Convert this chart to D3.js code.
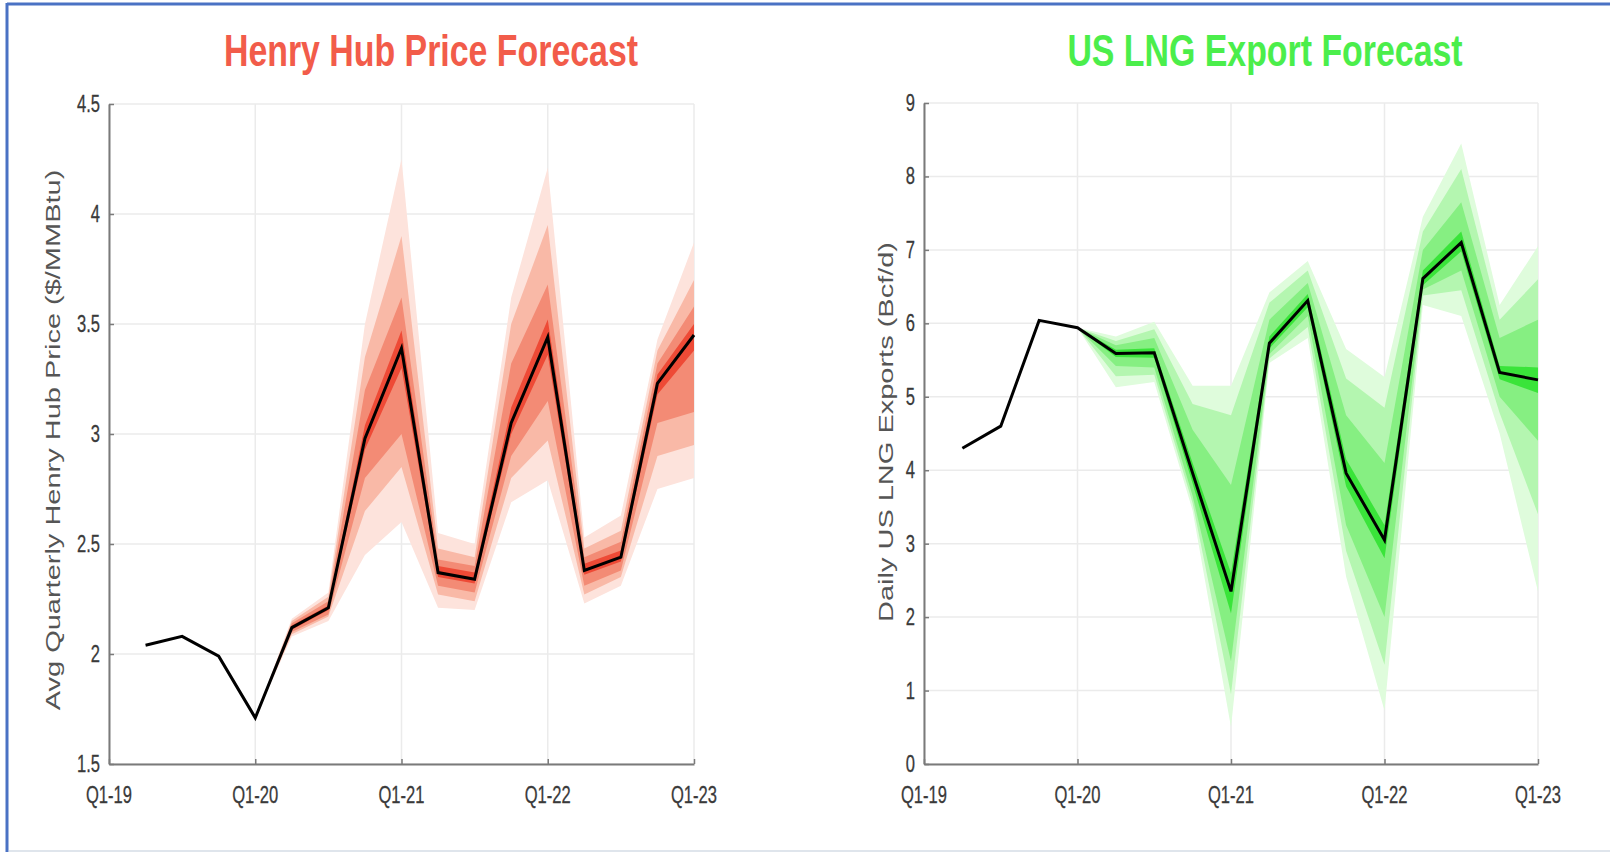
<!DOCTYPE html>
<html><head><meta charset="utf-8">
<script src="https://cdn.jsdelivr.net/npm/d3@7"></script>
<style>body{margin:0;background:#fff;overflow:hidden}</style>
</head><body><svg id="c" width="1610" height="852"></svg>
<script>
// ---------- DATA ----------
const quarters = ["Q1-19","Q2-19","Q3-19","Q4-19","Q1-20","Q2-20","Q3-20","Q4-20","Q1-21","Q2-21","Q3-21","Q4-21","Q1-22","Q2-22","Q3-22","Q4-22","Q1-23"];
const xTickLabels = ["Q1-19","Q1-20","Q1-21","Q1-22","Q1-23"];
const lineQuarters = ["Q2-19","Q3-19","Q4-19","Q1-20","Q2-20","Q3-20","Q4-20","Q1-21","Q2-21","Q3-21","Q4-21","Q1-22","Q2-22","Q3-22","Q4-22","Q1-23"];
const fanQuarters = ["Q1-20","Q2-20","Q3-20","Q4-20","Q1-21","Q2-21","Q3-21","Q4-21","Q1-22","Q2-22","Q3-22","Q4-22","Q1-23"];

// Henry Hub price ($/MMBtu)
const hhTitle = "Henry Hub Price Forecast";
const hhYLabel = "Avg Quarterly Henry Hub Price ($/MMBtu)";
const hhTicks = [1.5, 2, 2.5, 3, 3.5, 4, 4.5];
const hhPrice = [2.04, 2.08, 1.99, 1.71, 2.12, 2.21, 2.98, 3.39, 2.37, 2.34, 3.05, 3.44, 2.38, 2.44, 3.23, 3.45];
const hhHi4 = [1.71, 2.16, 2.28, 3.50, 4.25, 2.55, 2.50, 3.62, 4.21, 2.53, 2.63, 3.43, 3.87];
const hhHi3 = [1.71, 2.15, 2.26, 3.35, 3.90, 2.48, 2.44, 3.50, 3.95, 2.48, 2.56, 3.38, 3.70];
const hhHi2 = [1.71, 2.14, 2.24, 3.20, 3.62, 2.43, 2.40, 3.32, 3.68, 2.44, 2.51, 3.32, 3.58];
const hhHi1 = [1.71, 2.13, 2.22, 3.04, 3.47, 2.40, 2.37, 3.12, 3.52, 2.41, 2.47, 3.27, 3.50];
const hhLo1 = [1.71, 2.11, 2.20, 2.93, 3.30, 2.35, 2.32, 3.00, 3.36, 2.36, 2.42, 3.18, 3.38];
const hhLo2 = [1.71, 2.10, 2.18, 2.80, 3.00, 2.31, 2.28, 2.90, 3.15, 2.31, 2.38, 3.05, 3.10];
const hhLo3 = [1.71, 2.09, 2.17, 2.65, 2.85, 2.27, 2.24, 2.80, 2.97, 2.27, 2.35, 2.90, 2.95];
const hhLo4 = [1.71, 2.08, 2.15, 2.45, 2.60, 2.21, 2.20, 2.69, 2.79, 2.23, 2.31, 2.75, 2.80];

// US LNG exports (Bcf/d)
const lngTitle = "US LNG Export Forecast";
const lngYLabel = "Daily US LNG Exports (Bcf/d)";
const lngTicks = [0, 1, 2, 3, 4, 5, 6, 7, 8, 9];
const lngExports = [4.30, 4.60, 6.04, 5.94, 5.59, 5.60, 3.96, 2.35, 5.73, 6.31, 3.96, 3.05, 6.61, 7.10, 5.33, 5.23];
const lngHi4 = [5.94, 5.82, 6.02, 5.15, 5.15, 6.42, 6.85, 5.65, 5.27, 7.45, 8.45, 6.25, 7.05];
const lngHi3 = [5.94, 5.76, 5.92, 4.90, 4.75, 6.28, 6.72, 5.25, 4.85, 7.25, 8.10, 6.05, 6.60];
const lngHi2 = [5.94, 5.70, 5.80, 4.55, 3.80, 6.05, 6.55, 4.75, 4.10, 7.00, 7.65, 5.80, 6.05];
const lngHi1 = [5.94, 5.64, 5.66, 4.10, 2.60, 5.82, 6.40, 4.15, 3.25, 6.72, 7.25, 5.42, 5.40];
const lngLo1 = [5.94, 5.54, 5.53, 3.82, 2.05, 5.66, 6.22, 3.78, 2.80, 6.52, 6.98, 5.24, 5.05];
const lngLo2 = [5.94, 5.42, 5.40, 3.65, 1.40, 5.58, 6.10, 3.25, 2.00, 6.46, 6.72, 5.00, 4.40];
const lngLo3 = [5.94, 5.28, 5.30, 3.55, 0.95, 5.52, 5.95, 2.90, 1.35, 6.38, 6.45, 4.78, 3.40];
const lngLo4 = [5.94, 5.13, 5.20, 3.45, 0.50, 5.46, 5.80, 2.55, 0.73, 6.25, 6.10, 4.50, 2.35];

// ---------- DRAW ----------
const svg = d3.select("#c");
const FONT = "'Liberation Sans', Arial, sans-serif";

// page frame
svg.append("rect").attr("x",0).attr("y",0).attr("width",1610).attr("height",852).attr("fill","#fff");
svg.append("line").attr("x1",7).attr("x2",1610).attr("y1",4).attr("y2",4).attr("stroke","#4a72c4").attr("stroke-width",3);
svg.append("line").attr("x1",7).attr("x2",7).attr("y1",3).attr("y2",852).attr("stroke","#4a72c4").attr("stroke-width",3);
svg.append("line").attr("x1",9).attr("x2",1610).attr("y1",851).attr("y2",851).attr("stroke","#dfe5ec").attr("stroke-width",2);

function hText(g, x, y, txt, opts) {
  return g.append("text")
    .attr("transform", `translate(${x},${y}) scale(${opts.sx || 0.75},1)`)
    .attr("text-anchor", opts.anchor || "middle")
    .attr("font-family", FONT)
    .attr("font-size", opts.size)
    .attr("font-weight", opts.weight || "normal")
    .attr("fill", opts.fill || "#3a3a3a")
    .attr("stroke", opts.stroke || "none")
    .attr("stroke-width", opts.sw || 0)
    .attr("dominant-baseline", opts.baseline || "alphabetic")
    .text(txt);
}

function drawChart(cfg) {
  const g = svg.append("g");
  const x = d3.scaleLinear().domain([0, quarters.length - 1]).range([cfg.left, cfg.right]);
  const xq = q => x(quarters.indexOf(q));
  const y = d3.scaleLinear().domain(cfg.domain).range([cfg.bottom, cfg.top]);

  // grid
  g.selectAll(".hg").data(cfg.ticks).enter().append("line")
    .attr("x1", cfg.left).attr("x2", cfg.right)
    .attr("y1", d => y(d)).attr("y2", d => y(d))
    .attr("stroke", "#ebebeb").attr("stroke-width", 1.5);
  g.selectAll(".vg").data(xTickLabels).enter().append("line")
    .attr("x1", d => xq(d)).attr("x2", d => xq(d))
    .attr("y1", cfg.top).attr("y2", cfg.bottom)
    .attr("stroke", "#ebebeb").attr("stroke-width", 1.5);

  // fan bands, outer to inner
  cfg.bands.forEach((b, i) => {
    const area = d3.area()
      .x((d, j) => xq(fanQuarters[j]))
      .y0((d, j) => y(b.lo[j]))
      .y1((d, j) => y(b.hi[j]));
    g.append("path").datum(b.hi).attr("d", area).attr("fill", cfg.colors[i]);
  });

  // central line
  const line = d3.line().x((d, j) => xq(lineQuarters[j])).y(d => y(d));
  g.append("path").datum(cfg.values).attr("d", line)
    .attr("fill", "none").attr("stroke", "#000").attr("stroke-width", 3)
    .attr("stroke-linejoin", "miter");

  // axes
  const yAxis = d3.axisLeft(y).tickValues(cfg.ticks).tickSizeInner(-5).tickSizeOuter(0).tickFormat("");
  const ya = g.append("g").attr("transform", `translate(${cfg.left},0)`).call(yAxis);
  const xAxis = d3.axisBottom(x).tickValues(xTickLabels.map(q => quarters.indexOf(q))).tickSizeInner(-5).tickSizeOuter(0).tickFormat("");
  const xa = g.append("g").attr("transform", `translate(0,${cfg.bottom})`).call(xAxis);
  [ya, xa].forEach(a => {
    a.select(".domain").attr("stroke", "#7a7a7a").attr("stroke-width", 2);
    a.selectAll(".tick line").attr("stroke", "#7a7a7a").attr("stroke-width", 1.5);
  });

  // tick labels
  cfg.ticks.forEach(t => hText(g, cfg.left - 9, y(t), String(t), {anchor: "end", size: 23, sx: 0.72, baseline: "central", stroke: "#3a3a3a", sw: 0.3}));
  xTickLabels.forEach(q => hText(g, xq(q), cfg.bottom + 39, q, {anchor: "middle", size: 23, sx: 0.72, stroke: "#3a3a3a", sw: 0.3}));

  // title
  hText(g, cfg.titleX, 66, cfg.title, {size: 44, sx: 0.77, weight: "bold", fill: cfg.titleColor});

  // y label (rotated)
  g.append("text")
    .attr("transform", `translate(${cfg.labelX},${cfg.labelY}) scale(0.72,1) rotate(-90)`)
    .attr("text-anchor", "middle")
    .attr("font-family", FONT).attr("font-size", 29).attr("fill", "#555")
    .text(cfg.yLabel);
}

drawChart({
  left: 109, right: 694, top: 104, bottom: 764, domain: [1.5, 4.5], ticks: hhTicks,
  values: hhPrice,
  bands: [{hi: hhHi4, lo: hhLo4}, {hi: hhHi3, lo: hhLo3}, {hi: hhHi2, lo: hhLo2}, {hi: hhHi1, lo: hhLo1}],
  colors: ["#fde3dc", "#f9b9a7", "#f38b75", "#ee4a36"],
  title: hhTitle, titleX: 431, titleColor: "#f25c4a",
  yLabel: hhYLabel, labelX: 60, labelY: 440
});

drawChart({
  left: 924, right: 1538, top: 103, bottom: 764, domain: [0, 9], ticks: lngTicks,
  values: lngExports,
  bands: [{hi: lngHi4, lo: lngLo4}, {hi: lngHi3, lo: lngLo3}, {hi: lngHi2, lo: lngLo2}, {hi: lngHi1, lo: lngLo1}],
  colors: ["#dffcdc", "#b4f6b0", "#86ef82", "#3ae43a"],
  title: lngTitle, titleX: 1265, titleColor: "#4bee4b",
  yLabel: lngYLabel, labelX: 893, labelY: 432
});
</script>
</body></html>
